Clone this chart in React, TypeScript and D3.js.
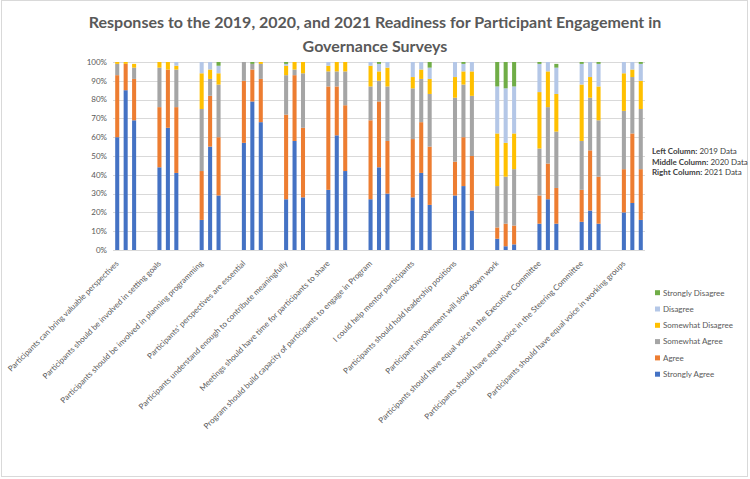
import { useEffect, useRef } from 'react';
import * as d3 from 'd3';

// survey statements, one group of three columns (2019, 2020, 2021) each
const statements = [
  'Participants can bring valuable perspectives',
  'Participants should be involved in setting goals',
  'Participants should be involved in planning programming',
  "Participants' perspectives are essential",
  'Participants understand enough to contribute meaningfully',
  'Meetings should have time for participants to share',
  'Program should build capacity of participants to engage in Program',
  'I could help mentor participants',
  'Participants should hold leadership positions',
  'Participant involvement will slow down work',
  'Participants should have equal voice in the Executive Committee',
  'Participants should have equal voice in the Steering Committee',
  'Participants should have equal voice in working groups',
];

const years = ['2019', '2020', '2021'];

// percent of responses, per statement: [2019, 2020, 2021]
const stronglyAgree = [
  [60, 85, 69], [44, 65, 41], [16, 55, 29], [57, 79, 68], [27, 58, 28], [32, 61, 42], [27, 44, 30],
  [28, 41, 24], [29, 34, 21], [6, 2, 3], [14, 27, 14], [15, 21, 14], [20, 25, 16],
];
const agree = [
  [33, 14, 22], [32, 31, 35], [26, 27, 31], [33, 17, 23], [45, 35, 37], [55, 26, 35], [42, 35, 28],
  [31, 27, 31], [18, 26, 29], [6, 12, 10], [15, 19, 19], [17, 32, 25], [23, 37, 27],
];
const somewhatAgree = [
  [6, 0, 6], [21, 0, 20], [33, 9, 28], [10, 3, 8], [21, 3, 29], [8, 8, 18], [18, 11, 29],
  [27, 23, 28], [34, 28, 32], [22, 25, 30], [25, 30, 30], [26, 28, 30], [31, 30, 32],
];
const somewhatDisagree = [
  [1, 1, 2], [3, 4, 2], [19, 5, 6], [0, 0, 1], [5, 4, 6], [3, 5, 5], [11, 5, 10],
  [6, 5, 8], [11, 7, 13], [28, 18, 19], [30, 19, 20], [30, 11, 18], [20, 4, 15],
];
const disagree = [
  [0, 0, 0], [0, 0, 2], [6, 4, 4], [0, 0, 0], [1, 0, 0], [2, 0, 0], [2, 4, 3],
  [8, 4, 6], [8, 4, 5], [25, 29, 25], [15, 5, 14], [11, 8, 12], [6, 4, 9],
];
const stronglyDisagree = [
  [0, 0, 0], [0, 0, 0], [0, 0, 2], [0, 1, 0], [1, 0, 0], [0, 0, 0], [0, 1, 0],
  [0, 0, 3], [0, 1, 0], [13, 14, 13], [1, 0, 2], [1, 0, 1], [0, 0, 1],
];

const levels = ['Strongly Agree', 'Agree', 'Somewhat Agree', 'Somewhat Disagree', 'Disagree', 'Strongly Disagree'];
const levelValues = [stronglyAgree, agree, somewhatAgree, somewhatDisagree, disagree, stronglyDisagree];
const colors = ['#4472C4', '#ED7D31', '#A5A5A5', '#FFC000', '#B4C7E7', '#70AD47'];

const yTicks = [0, 10, 20, 30, 40, 50, 60, 70, 80, 90, 100];

const notes = [
  ['Left Column:', ' 2019 Data'],
  ['Middle Column:', ' 2020 Data'],
  ['Right Column:', ' 2021 Data'],
];

const width = 750;
const height = 479;
const font = 'Lato, "Open Sans", sans-serif';
const textColor = '#595959';

const App = () => {
  const svgRef = useRef<SVGSVGElement>(null);

  useEffect(() => {
    if (!svgRef.current) return;
    const svg = d3.select(svgRef.current);
    svg.selectAll('*').remove();

    const plot = { left: 113, right: 645, top: 62, bottom: 250 };
    const slotsPerGroup = 5; // 3 columns + 2 empty slots between statements
    const slotCount = statements.length * slotsPerGroup - 2;

    // one row per column of the chart
    const rows = statements.flatMap((_, i) =>
      years.map((year, j) => {
        const row: { [key: string]: number | string } = { slot: i * slotsPerGroup + j, year };
        levels.forEach((lv, k) => { row[lv] = levelValues[k][i][j]; });
        return row;
      })
    );

    const x = d3.scaleBand<number>()
      .domain(d3.range(slotCount))
      .range([plot.left, plot.right])
      .paddingInner(0.52)
      .paddingOuter(0.26);

    const y = d3.scaleLinear().domain([0, 100]).range([plot.bottom, plot.top]);

    svg.append('rect')
      .attr('x', 1.5).attr('y', 0.5)
      .attr('width', 746).attr('height', 476)
      .attr('fill', '#fff').attr('stroke', '#D9D9D9');

    // title
    svg.append('text')
      .attr('x', 375).attr('y', 28)
      .attr('text-anchor', 'middle')
      .attr('font-family', font).attr('font-size', 16).attr('font-weight', 'bold')
      .attr('fill', textColor)
      .selectAll('tspan')
      .data(['Responses to the 2019, 2020, and 2021 Readiness for Participant Engagement in', 'Governance Surveys'])
      .enter().append('tspan')
      .attr('x', 375)
      .attr('dy', (_, i) => (i === 0 ? 0 : 24))
      .text(d => d);

    // gridlines + y labels
    const grid = svg.append('g');
    grid.selectAll('line')
      .data(yTicks)
      .enter().append('line')
      .attr('x1', plot.left).attr('x2', plot.right)
      .attr('y1', d => Math.round(y(d)) + 0.5).attr('y2', d => Math.round(y(d)) + 0.5)
      .attr('stroke', '#D9D9D9').attr('stroke-width', 1);
    grid.selectAll('text')
      .data(yTicks)
      .enter().append('text')
      .attr('x', 107).attr('y', d => y(d))
      .attr('dy', '0.35em')
      .attr('text-anchor', 'end')
      .attr('font-family', font).attr('font-size', 8)
      .attr('fill', textColor)
      .text(d => `${d}%`);

    // stacked columns
    const stack = d3.stack<any>().keys(levels);
    const series = stack(rows);
    svg.append('g')
      .selectAll('g')
      .data(series)
      .enter().append('g')
      .attr('fill', (_, i) => colors[i])
      .selectAll('rect')
      .data(d => d)
      .enter().append('rect')
      .attr('x', d => x(d.data.slot as number) || 0)
      .attr('y', d => y(d[1]))
      .attr('width', x.bandwidth())
      .attr('height', d => y(d[0]) - y(d[1]));

    // category labels, on the first column of each group
    svg.append('g')
      .selectAll('text')
      .data(statements)
      .enter().append('text')
      .attr('transform', (_, i) => {
        const cx = (x(i * slotsPerGroup) || 0) + x.bandwidth() / 2;
        return `translate(${cx},262) rotate(-45)`;
      })
      .attr('dy', '0.35em')
      .attr('text-anchor', 'end')
      .attr('font-family', font).attr('font-size', 8)
      .attr('fill', textColor)
      .text(d => d);

    // column notes
    const note = svg.append('g')
      .selectAll('text')
      .data(notes)
      .enter().append('text')
      .attr('x', 652).attr('y', (_, i) => 154 + i * 10.7)
      .attr('font-family', font).attr('font-size', 8)
      .attr('fill', '#404040');
    note.append('tspan').attr('font-weight', 'bold').text(d => d[0]);
    note.append('tspan').text(d => d[1]);

    // legend, reversed like the stack
    const legend = svg.append('g')
      .selectAll('g')
      .data(levels.map((lv, i) => ({ lv, color: colors[i] })).reverse())
      .enter().append('g')
      .attr('transform', (_, i) => `translate(655,${292.7 + i * 16.3})`);
    legend.append('rect')
      .attr('x', 0).attr('y', -2.5).attr('width', 5).attr('height', 5)
      .attr('fill', d => d.color);
    legend.append('text')
      .attr('x', 8).attr('dy', '0.35em')
      .attr('font-family', font).attr('font-size', 8)
      .attr('fill', textColor)
      .text(d => d.lv);
  }, []);

  return (
    <svg
      ref={svgRef}
      width={width}
      height={height}
      style={{ position: 'absolute', left: 0, top: 0, display: 'block' }}
    />
  );
};

export default App;
